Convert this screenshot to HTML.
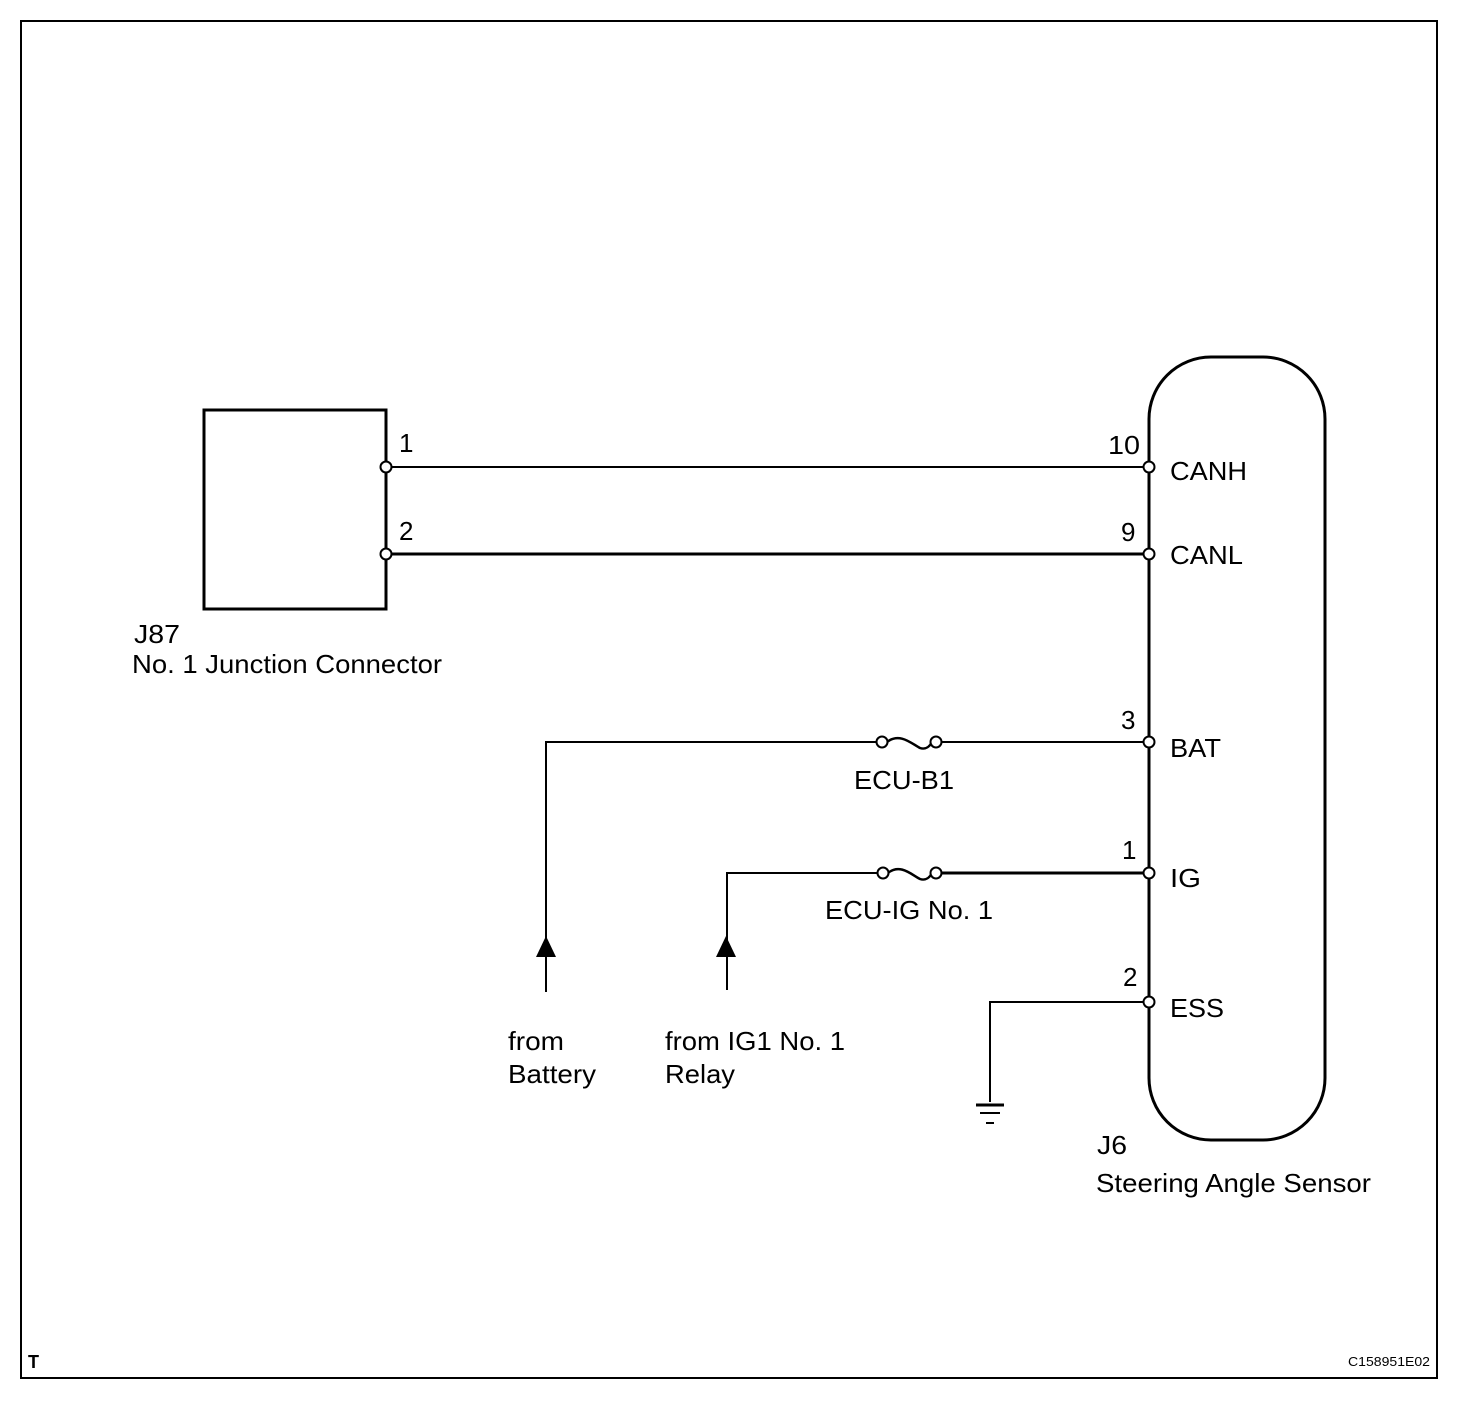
<!DOCTYPE html>
<html><head><meta charset="utf-8"><style>
html,body{margin:0;padding:0;background:#fff}
svg text{font-family:"Liberation Sans",Arial,sans-serif;fill:#000}
</style></head><body>
<svg width="1472" height="1398" viewBox="0 0 1472 1398" xmlns="http://www.w3.org/2000/svg">
<rect x="21" y="21" width="1416" height="1357" fill="none" stroke="#000" stroke-width="2"/>
<rect x="204" y="410" width="182" height="199" fill="none" stroke="#000" stroke-width="3"/>
<rect x="1149" y="357" width="176" height="783" rx="62" ry="62" fill="none" stroke="#000" stroke-width="3"/>
<line x1="386" y1="467" x2="1149" y2="467" stroke="#000" stroke-width="2"/>
<line x1="386" y1="554" x2="1149" y2="554" stroke="#000" stroke-width="3"/>
<polyline points="546,992 546,742 882,742" fill="none" stroke="#000" stroke-width="2"/>
<line x1="936" y1="742" x2="1149" y2="742" stroke="#000" stroke-width="2"/>
<polyline points="727,990 727,873 883,873" fill="none" stroke="#000" stroke-width="2"/>
<line x1="936" y1="873" x2="1149" y2="873" stroke="#000" stroke-width="3"/>
<polyline points="990,1102 990,1002 1149,1002" fill="none" stroke="#000" stroke-width="2"/>
<path d="M887,742 C900,732 912,744 920,748 C926,750 930,746 932,742" fill="none" stroke="#000" stroke-width="2.5"/>
<path d="M888,873 C900,863 912,875 920,879 C926,881 930,877 932,873" fill="none" stroke="#000" stroke-width="2.5"/>
<g fill="#fff" stroke="#000" stroke-width="2">
<circle cx="882" cy="742" r="5.5"/><circle cx="936" cy="742" r="5.5"/>
<circle cx="883" cy="873" r="5.5"/><circle cx="936" cy="873" r="5.5"/>
<circle cx="386" cy="467" r="5.5"/><circle cx="386" cy="554" r="5.5"/>
<circle cx="1149" cy="467" r="5.5"/><circle cx="1149" cy="554" r="5.5"/>
<circle cx="1149" cy="742" r="5.5"/><circle cx="1149" cy="873" r="5.5"/>
<circle cx="1149" cy="1002" r="5.5"/>
</g>
<polygon points="546,936 536,957 556,957"/>
<polygon points="726,936 716,957 736,957"/>
<line x1="976" y1="1105" x2="1004" y2="1105" stroke="#000" stroke-width="3"/>
<line x1="980" y1="1113" x2="1000" y2="1113" stroke="#000" stroke-width="2"/>
<line x1="986" y1="1123" x2="994" y2="1123" stroke="#000" stroke-width="2"/>
<g font-size="26">
<text x="399" y="452">1</text>
<text x="399" y="540">2</text>
<text x="1108" y="454" textLength="32" lengthAdjust="spacingAndGlyphs">10</text>
<text x="1121" y="541">9</text>
<text x="1121" y="729">3</text>
<text x="1122" y="859">1</text>
<text x="1123" y="986">2</text>
<text x="1170" y="480" textLength="77" lengthAdjust="spacingAndGlyphs">CANH</text>
<text x="1170" y="564" textLength="73" lengthAdjust="spacingAndGlyphs">CANL</text>
<text x="1170" y="757" textLength="51" lengthAdjust="spacingAndGlyphs">BAT</text>
<text x="1170" y="887" textLength="31" lengthAdjust="spacingAndGlyphs">IG</text>
<text x="1170" y="1017" textLength="54" lengthAdjust="spacingAndGlyphs">ESS</text>
<text x="854" y="789" textLength="100" lengthAdjust="spacingAndGlyphs">ECU-B1</text>
<text x="825" y="919" textLength="168" lengthAdjust="spacingAndGlyphs">ECU-IG No. 1</text>
<text x="134" y="643" textLength="46" lengthAdjust="spacingAndGlyphs">J87</text>
<text x="132" y="673" textLength="310" lengthAdjust="spacingAndGlyphs">No. 1 Junction Connector</text>
<text x="508" y="1050" textLength="56" lengthAdjust="spacingAndGlyphs">from</text>
<text x="508" y="1083" textLength="88" lengthAdjust="spacingAndGlyphs">Battery</text>
<text x="665" y="1050" textLength="180" lengthAdjust="spacingAndGlyphs">from IG1 No. 1</text>
<text x="665" y="1083" textLength="70" lengthAdjust="spacingAndGlyphs">Relay</text>
<text x="1097" y="1154" textLength="30" lengthAdjust="spacingAndGlyphs">J6</text>
<text x="1096" y="1192" textLength="275" lengthAdjust="spacingAndGlyphs">Steering Angle Sensor</text>
</g>
<text x="28" y="1368" font-size="18" font-weight="bold">T</text>
<text x="1348" y="1366" font-size="13" textLength="82" lengthAdjust="spacingAndGlyphs">C158951E02</text>
</svg>
</body></html>
